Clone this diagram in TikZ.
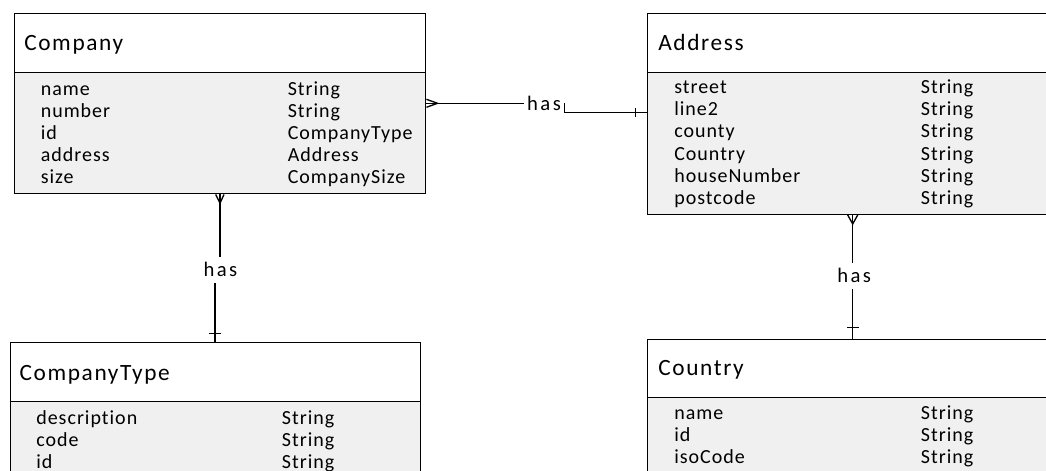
\documentclass[tikz,border=0pt]{standalone}
\usepackage{fontspec}
\setmainfont{Carlito}
\newfontfamily\titlefont{Carlito}[LetterSpace=7,Ligatures=NoCommon]
\newfontfamily\fieldfont{Carlito}[LetterSpace=5,Ligatures=NoCommon]
\newfontfamily\relfont{Carlito}[LetterSpace=12,Ligatures=NoCommon]
\usetikzlibrary{calc}

\definecolor{bodygray}{RGB}{240,240,240}
\tikzset{
  frame/.style={draw=black, line width=1.1pt, inner sep=0pt, anchor=north west},
  headbox/.style={frame, fill=white},
  bodybox/.style={frame, fill=bodygray},
  titletext/.style={anchor=base west, inner sep=0pt, font=\titlefont\fontsize{17.5}{21}\selectfont},
  fieldtext/.style={anchor=base west, inner sep=0pt, font=\fieldfont\fontsize{15}{18}\selectfont},
  reltext/.style={inner xsep=2.25pt, inner ysep=0pt, text height=14.78pt, text depth=4.5pt,
                  font=\relfont\fontsize{15.5}{18}\selectfont},
  conn/.style={draw=black, line width=1pt}
}

\begin{document}
\begin{tikzpicture}[x=0.75pt,y=-0.75pt]
\useasboundingbox (0,0) rectangle (1046,471);
\fill[white] (0,0) rectangle (1046,471);
\clip (0,0) rectangle (1046,471);

% ---------- Company ----------
\node[bodybox, minimum width={411*0.75pt}, minimum height={121*0.75pt}] (co-body) at (14,72) {};
\node[headbox, minimum width={411*0.75pt}, minimum height={59*0.75pt}] (co-head) at (14,13) {};
\node[titletext] (co-title) at ($(co-head.north west)+(10,37)$) {Company};
\foreach \n/\t [count=\i] in {name/String, number/String, id/CompanyType, address/Address, size/CompanySize}{
  \node[fieldtext] (co-n\i) at ($(co-head.north west)+(26.5,{59.8+22.2*\i})$) {\n};
  \node[fieldtext] (co-t\i) at ($(co-head.north west)+(273.5,{59.8+22.2*\i})$) {\t};
}

% ---------- Address ----------
\node[bodybox, minimum width={403.5*0.75pt}, minimum height={142*0.75pt}] (ad-body) at (646.5,71.5) {};
\node[headbox, minimum width={403.5*0.75pt}, minimum height={59*0.75pt}] (ad-head) at (646.5,12.5) {};
\node[titletext] (ad-title) at ($(ad-head.north west)+(11.5,37.5)$) {Address};
\foreach \n/\t [count=\i] in {street/String, line2/String, county/String, Country/String, houseNumber/String, postcode/String}{
  \node[fieldtext] (ad-n\i) at ($(ad-head.north west)+(27.5,{58.8+22.2*\i})$) {\n};
  \node[fieldtext] (ad-t\i) at ($(ad-head.north west)+(274.2,{58.8+22.2*\i})$) {\t};
}

% ---------- CompanyType ----------
\node[bodybox, minimum width={410*0.75pt}, minimum height={79*0.75pt}] (ct-body) at (9.5,401) {};
\node[headbox, minimum width={410*0.75pt}, minimum height={59*0.75pt}] (ct-head) at (9.5,342) {};
\node[titletext] (ct-title) at ($(ct-head.north west)+(9.8,38)$) {CompanyType};
\foreach \n/\t [count=\i] in {description/String, code/String, id/String}{
  \node[fieldtext] (ct-n\i) at ($(ct-head.north west)+(26.5,{60.1+22.2*\i})$) {\n};
  \node[fieldtext] (ct-t\i) at ($(ct-head.north west)+(272.2,{60.1+22.2*\i})$) {\t};
}

% ---------- Country ----------
\node[bodybox, minimum width={403.5*0.75pt}, minimum height={83.5*0.75pt}] (cn-body) at (646.5,396.5) {};
\node[headbox, minimum width={403.5*0.75pt}, minimum height={58*0.75pt}] (cn-head) at (646.5,338.5) {};
\node[titletext] (cn-title) at ($(cn-head.north west)+(11.5,36.5)$) {Country};
\foreach \n/\t [count=\i] in {name/String, id/String, isoCode/String}{
  \node[fieldtext] (cn-n\i) at ($(cn-head.north west)+(27.5,{58.6+22.2*\i})$) {\n};
  \node[fieldtext] (cn-t\i) at ($(cn-head.north west)+(274.2,{58.6+22.2*\i})$) {\t};
}

% ---------- Company -- Address (many to one) ----------
\node[reltext] (rel1) at (544,103.3) {has};
\coordinate (p1) at ($(co-body.north east)+(0,31.3)$);
\coordinate (a1) at ($(ad-body.north west)+(0,41.2)$);
\draw[conn] (p1) -- (rel1.west);
\draw[conn] ($(p1)+(0,-4)$) -- ($(p1)+(11,0)$) -- ($(p1)+(0,4)$);
\draw[conn] (rel1.east) -- (rel1.east |- a1) -- (a1);
\draw[conn] ($(a1)+(-11,-4.3)$) -- ($(a1)+(-11,4.3)$);

% ---------- Company -- CompanyType ----------
\node[reltext] (rel2) at (220.4,269.8) {has};
\coordinate (p2) at ($(co-body.south west)+(206,0)$);
\coordinate (t2) at ($(ct-head.north west)+(205.5,0)$);
\draw[conn] (p2) -- (p2 |- rel2.north);
\draw[conn] ($(p2)+(-4.3,0)$) -- ($(p2)+(0,8.7)$) -- ($(p2)+(4,0)$);
\draw[conn] (t2 |- rel2.south) -- (t2);
\draw[conn] ($(t2)+(-6,-8.7)$) -- ($(t2)+(6,-8.7)$);

% ---------- Address -- Country ----------
\node[reltext] (rel3) at (854.2,275.9) {has};
\coordinate (p3) at ($(ad-body.south west)+(206.2,0)$);
\coordinate (t3) at ($(cn-head.north west)+(206.2,0)$);
\draw[conn] (p3) -- (p3 |- rel3.north);
\draw[conn] ($(p3)+(-5,0)$) -- ($(p3)+(0,9)$) -- ($(p3)+(5,0)$);
\draw[conn] (t3 |- rel3.south) -- (t3);
\draw[conn] ($(t3)+(-5.8,-10.8)$) -- ($(t3)+(5.8,-10.8)$);
\end{tikzpicture}
\end{document}
